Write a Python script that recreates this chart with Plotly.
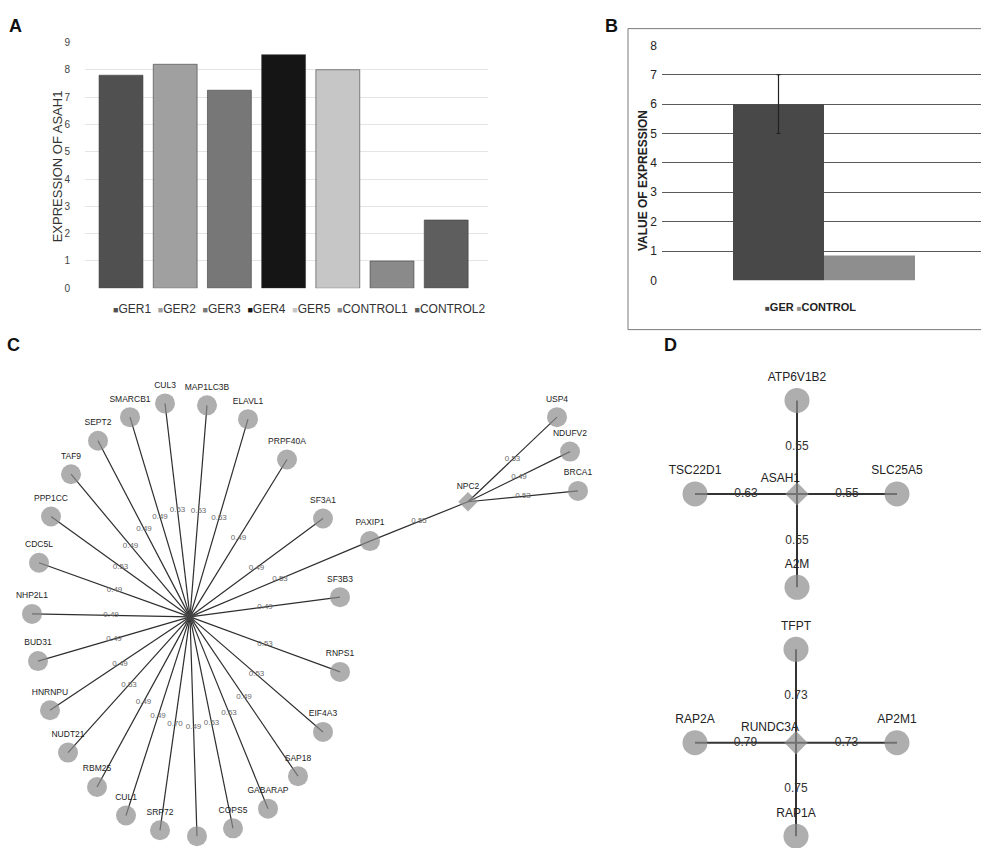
import plotly.graph_objects as go

# ---------------- data ----------------
# Panel A
samples = ["GER1", "GER2", "GER3", "GER4", "GER5", "CONTROL1", "CONTROL2"]
asah1_expr = [7.8, 8.2, 7.25, 8.55, 8.0, 1.0, 2.5]
sample_colors = ["#505050", "#a0a0a0", "#777777", "#151515", "#c6c6c6", "#8a8a8a", "#5e5e5e"]
a_ticks = [0, 1, 2, 3, 4, 5, 6, 7, 8, 9]

# Panel B
groups = ["GER", "CONTROL"]
group_means = [6.0, 0.85]
group_err = [1.0, None]
group_colors = ["#484848", "#8e8e8e"]
b_ticks = [0, 1, 2, 3, 4, 5, 6, 7, 8]

# Panel C network (layout coordinates of the drawing, in picture units)
c_nodes = ["HUB", "CUL3", "MAP1LC3B", "ELAVL1", "PRPF40A", "SF3A1", "PAXIP1", "SF3B3",
           "RNPS1", "EIF4A3", "SAP18", "GABARAP", "COPS5", "N13", "SRP72", "CUL1",
           "RBM25", "NUDT21", "HNRNPU", "BUD31", "NHP2L1", "CDC5L", "PPP1CC", "TAF9",
           "SEPT2", "SMARCB1", "NPC2", "USP4", "NDUFV2", "BRCA1"]
c_labels = ["", "CUL3", "MAP1LC3B", "ELAVL1", "PRPF40A", "SF3A1", "PAXIP1", "SF3B3",
            "RNPS1", "EIF4A3", "SAP18", "GABARAP", "COPS5", "", "SRP72", "CUL1",
            "RBM25", "NUDT21", "HNRNPU", "BUD31", "NHP2L1", "CDC5L", "PPP1CC", "TAF9",
            "SEPT2", "SMARCB1", "NPC2", "USP4", "NDUFV2", "BRCA1"]
c_x = [190, 165, 207, 248, 287, 323, 370, 340, 340, 323, 298, 268, 233, 197, 160, 126,
       97, 68, 50, 38, 32, 39, 51, 71, 98, 130, 468, 557, 570, 578]
c_y = [620, 403, 405, 419, 460, 520, 543, 600, 676, 737, 782, 815, 835, 843, 837, 822,
       793, 758, 715, 665, 617, 565, 518, 475, 441, 417, 503, 417, 452, 492]
c_edge_src = ["HUB"] * 25 + ["PAXIP1", "NPC2", "NPC2", "NPC2"]
c_edge_dst = ["CUL3", "MAP1LC3B", "ELAVL1", "PRPF40A", "SF3A1", "PAXIP1", "SF3B3",
              "RNPS1", "EIF4A3", "SAP18", "GABARAP", "COPS5", "N13", "SRP72", "CUL1",
              "RBM25", "NUDT21", "HNRNPU", "BUD31", "NHP2L1", "CDC5L", "PPP1CC", "TAF9",
              "SEPT2", "SMARCB1", "NPC2", "USP4", "NDUFV2", "BRCA1"]
c_edge_w = [0.53, 0.53, 0.53, 0.49, 0.49, 0.53, 0.49, 0.53, 0.53, 0.49, 0.53, 0.53,
            0.49, 0.70, 0.49, 0.49, 0.53, 0.49, 0.49, 0.49, 0.49, 0.53, 0.49, 0.49,
            0.49, 0.55, 0.53, 0.49, 0.53]

# Panel D networks
d_nodes = ["ASAH1", "ATP6V1B2", "TSC22D1", "SLC25A5", "A2M",
           "RUNDC3A", "TFPT", "RAP2A", "AP2M1", "RAP1A"]
d_x = [797, 797, 695, 897, 797, 796, 796, 695, 897, 796]
d_y = [495, 400, 495, 495, 590, 748, 653, 748, 748, 843]
d_edge_src = ["ASAH1"] * 4 + ["RUNDC3A"] * 4
d_edge_dst = ["ATP6V1B2", "TSC22D1", "SLC25A5", "A2M", "TFPT", "RAP2A", "AP2M1", "RAP1A"]
d_edge_w = [0.55, 0.63, 0.55, 0.55, 0.73, 0.79, 0.73, 0.75]
hubs_diamond = ["NPC2", "ASAH1", "RUNDC3A"]

# ---------------- figure ----------------
W, H = 981, 855
SANS = "Liberation Sans, Arial, sans-serif"

fig = go.Figure()

# Panel A bars
for name, val, col in zip(samples, asah1_expr, sample_colors):
    fig.add_trace(go.Bar(x=[name], y=[val], name=name, width=0.81,
                         marker=dict(color=col, line=dict(color="#3c3c3c", width=0.6)),
                         xaxis="x", yaxis="y", showlegend=False))

# Panel B bars
for name, val, err, col in zip(groups, group_means, group_err, group_colors):
    kw = {}
    if err is not None:
        kw["error_y"] = dict(type="data", array=[err], color="#222222", thickness=1.2, width=2)
    fig.add_trace(go.Bar(x=[name], y=[val], name=name, width=1.0,
                         marker=dict(color=col, line=dict(width=0)),
                         xaxis="x2", yaxis="y2", showlegend=False, **kw))


def network(nodes, xs, ys, src, dst, weights, lw, lcol, efont):
    pos = {n: (x, y) for n, x, y in zip(nodes, xs, ys)}
    ex, ey, mx, my = [], [], [], []
    for s, d in zip(src, dst):
        (x0, y0), (x1, y1) = pos[s], pos[d]
        ex += [x0, x1, None]
        ey += [y0, y1, None]
        mx.append((x0 + x1) / 2)
        my.append((y0 + y1) / 2)
    fig.add_trace(go.Scatter(x=ex, y=ey, mode="lines", line=dict(color=lcol, width=lw),
                             xaxis="x3", yaxis="y3", showlegend=False, hoverinfo="skip"))
    fig.add_trace(go.Scatter(x=mx, y=my, mode="text", text=[f"{w:.2f}" for w in weights],
                             textfont=efont, textposition="middle center",
                             xaxis="x3", yaxis="y3", showlegend=False, hoverinfo="skip"))


network(c_nodes, c_x, c_y, c_edge_src, c_edge_dst, c_edge_w, 1.2, "#2e2e2e",
        dict(family=SANS, size=8, color="#6a6a6a"))
network(d_nodes, d_x, d_y, d_edge_src, d_edge_dst, d_edge_w, 2.0, "#333333",
        dict(family=SANS, size=12, color="#333333"))

# Panel C nodes
c_sym = ["diamond" if n in hubs_diamond else "circle" for n in c_nodes]
c_size = [15 if n in hubs_diamond else 20 for n in c_nodes]
c_col = ["#8c8c8c" for _ in c_nodes]
c_sym[0] = "star"
c_size[0] = 13
c_col[0] = "#4a4a4a"
fig.add_trace(go.Scatter(x=c_x, y=c_y, mode="markers+text", text=c_labels,
                         textposition="top center",
                         textfont=dict(family=SANS, size=8.5, color="#222222"),
                         marker=dict(symbol=c_sym, size=c_size, color=c_col,
                                     line=dict(width=0)),
                         xaxis="x3", yaxis="y3", showlegend=False, hoverinfo="text"))

# Panel D nodes
d_is_hub = [n in hubs_diamond for n in d_nodes]
fig.add_trace(go.Scatter(x=d_x, y=d_y, mode="markers+text",
                         text=["" if h else n for n, h in zip(d_nodes, d_is_hub)],
                         textposition="top center",
                         textfont=dict(family=SANS, size=12, color="#222222"),
                         marker=dict(symbol=["diamond" if h else "circle" for h in d_is_hub],
                                     size=[18 if h else 25 for h in d_is_hub],
                                     color="#8c8c8c", line=dict(width=0)),
                         xaxis="x3", yaxis="y3", showlegend=False, hoverinfo="text"))
# hub labels sit up-left of the diamond
hub_dx, hub_dy = 3, -9
fig.add_trace(go.Scatter(x=[x + hub_dx for x, h in zip(d_x, d_is_hub) if h],
                         y=[y + hub_dy for y, h in zip(d_y, d_is_hub) if h],
                         mode="text", text=[n for n, h in zip(d_nodes, d_is_hub) if h],
                         textposition="top left",
                         textfont=dict(family=SANS, size=12, color="#222222"),
                         xaxis="x3", yaxis="y3", showlegend=False, hoverinfo="skip"))


def px(xp):
    return xp / W


def py(yp):
    return 1 - yp / H


annotations = []
# panel letters
for letter, (lx, ly) in zip(["A", "B", "C", "D"], [(15, 19), (611, 19), (13, 344), (670, 344)]):
    annotations.append(dict(text=f"<b>{letter}</b>", x=px(lx), y=py(ly), xref="paper", yref="paper",
                            showarrow=False, font=dict(family=SANS, size=18, color="#111111"),
                            xanchor="center", yanchor="middle"))

# axis titles
annotations.append(dict(text="EXPRESSION OF ASAH1", x=px(57), y=py(162), xref="paper", yref="paper",
                        textangle=-90, showarrow=False, xanchor="center", yanchor="middle",
                        font=dict(family=SANS, size=13, color="#333333")))
annotations.append(dict(text="<b>VALUE OF EXPRESSION</b>", x=px(643), y=py(177), xref="paper",
                        yref="paper", textangle=-90, showarrow=False, xanchor="center",
                        yanchor="middle", font=dict(family=SANS, size=12, color="#222222")))

# legends (text based)
leg_a = "&nbsp;&nbsp;".join(
    f"<span style='font-size:9px;color:{c}'>■</span>{n}" for n, c in zip(samples, sample_colors))
annotations.append(dict(text=leg_a, x=px(299), y=py(307), xref="paper", yref="paper",
                        xanchor="center", yanchor="middle",
                        showarrow=False, font=dict(family=SANS, size=12, color="#333333")))
leg_b = "&nbsp;".join(
    f"<span style='font-size:8px;color:{c}'>■</span><b>{n}</b>" for n, c in zip(groups, group_colors))
annotations.append(dict(text=leg_b, x=px(810), y=py(305), xref="paper", yref="paper",
                        xanchor="center", yanchor="middle",
                        showarrow=False, font=dict(family=SANS, size=11, color="#222222")))

shapes = [dict(type="rect", xref="paper", yref="paper", x0=px(628), x1=1.02, y0=py(328), y1=py(22),
               line=dict(color="#7a7a7a", width=1), fillcolor="rgba(0,0,0,0)", layer="below")]

# Panel A axis geometry
a_left, a_right = 85, 488
a_step = 54.2
a_x0 = -(121 - a_left) / a_step
a_x1 = a_x0 + (a_right - a_left) / a_step
# Panel B axis geometry
b_left, b_right = 662, W
b_step = 91
b_x0 = -(778.5 - b_left) / b_step
b_x1 = b_x0 + (b_right - b_left) / b_step

fig.update_layout(
    width=W, height=H, autosize=False,
    margin=dict(l=0, r=0, t=0, b=0, pad=0),
    paper_bgcolor="white", plot_bgcolor="rgba(0,0,0,0)",
    barmode="overlay",
    font=dict(family=SANS, color="#333333"),
    xaxis=dict(domain=[px(a_left), px(a_right)], range=[a_x0, a_x1], anchor="y",
               showticklabels=False, showgrid=False, zeroline=False, showline=False,
               ticks="", fixedrange=True),
    yaxis=dict(domain=[py(286), py(36)], range=[0, 9], tickvals=a_ticks, anchor="x",
               showgrid=True, gridcolor="#e4e4e4", gridwidth=1, zeroline=False, showline=False,
               tickfont=dict(family=SANS, size=10, color="#444444"), ticklabelstandoff=14,
               fixedrange=True),
    xaxis2=dict(domain=[px(b_left), 1], range=[b_x0, b_x1], anchor="y2",
                showticklabels=False, showgrid=False, zeroline=False, showline=False,
                ticks="", fixedrange=True),
    yaxis2=dict(domain=[py(278), py(39)], range=[0, 8], tickvals=b_ticks, anchor="x2",
                showgrid=True, gridcolor="#5a5a5a", gridwidth=1, zeroline=False, showline=False,
                tickfont=dict(family=SANS, size=12, color="#222222"), ticklabelstandoff=4,
                fixedrange=True),
    xaxis3=dict(domain=[0, 1], range=[0, W], anchor="y3", visible=False, fixedrange=True),
    yaxis3=dict(domain=[0, py(340)], range=[H, 340], anchor="x3", visible=False, fixedrange=True),
    annotations=annotations,
    shapes=shapes,
)

fig.write_html("out.html", config={"displayModeBar": False},
               post_script="document.body.style.margin='0';")
